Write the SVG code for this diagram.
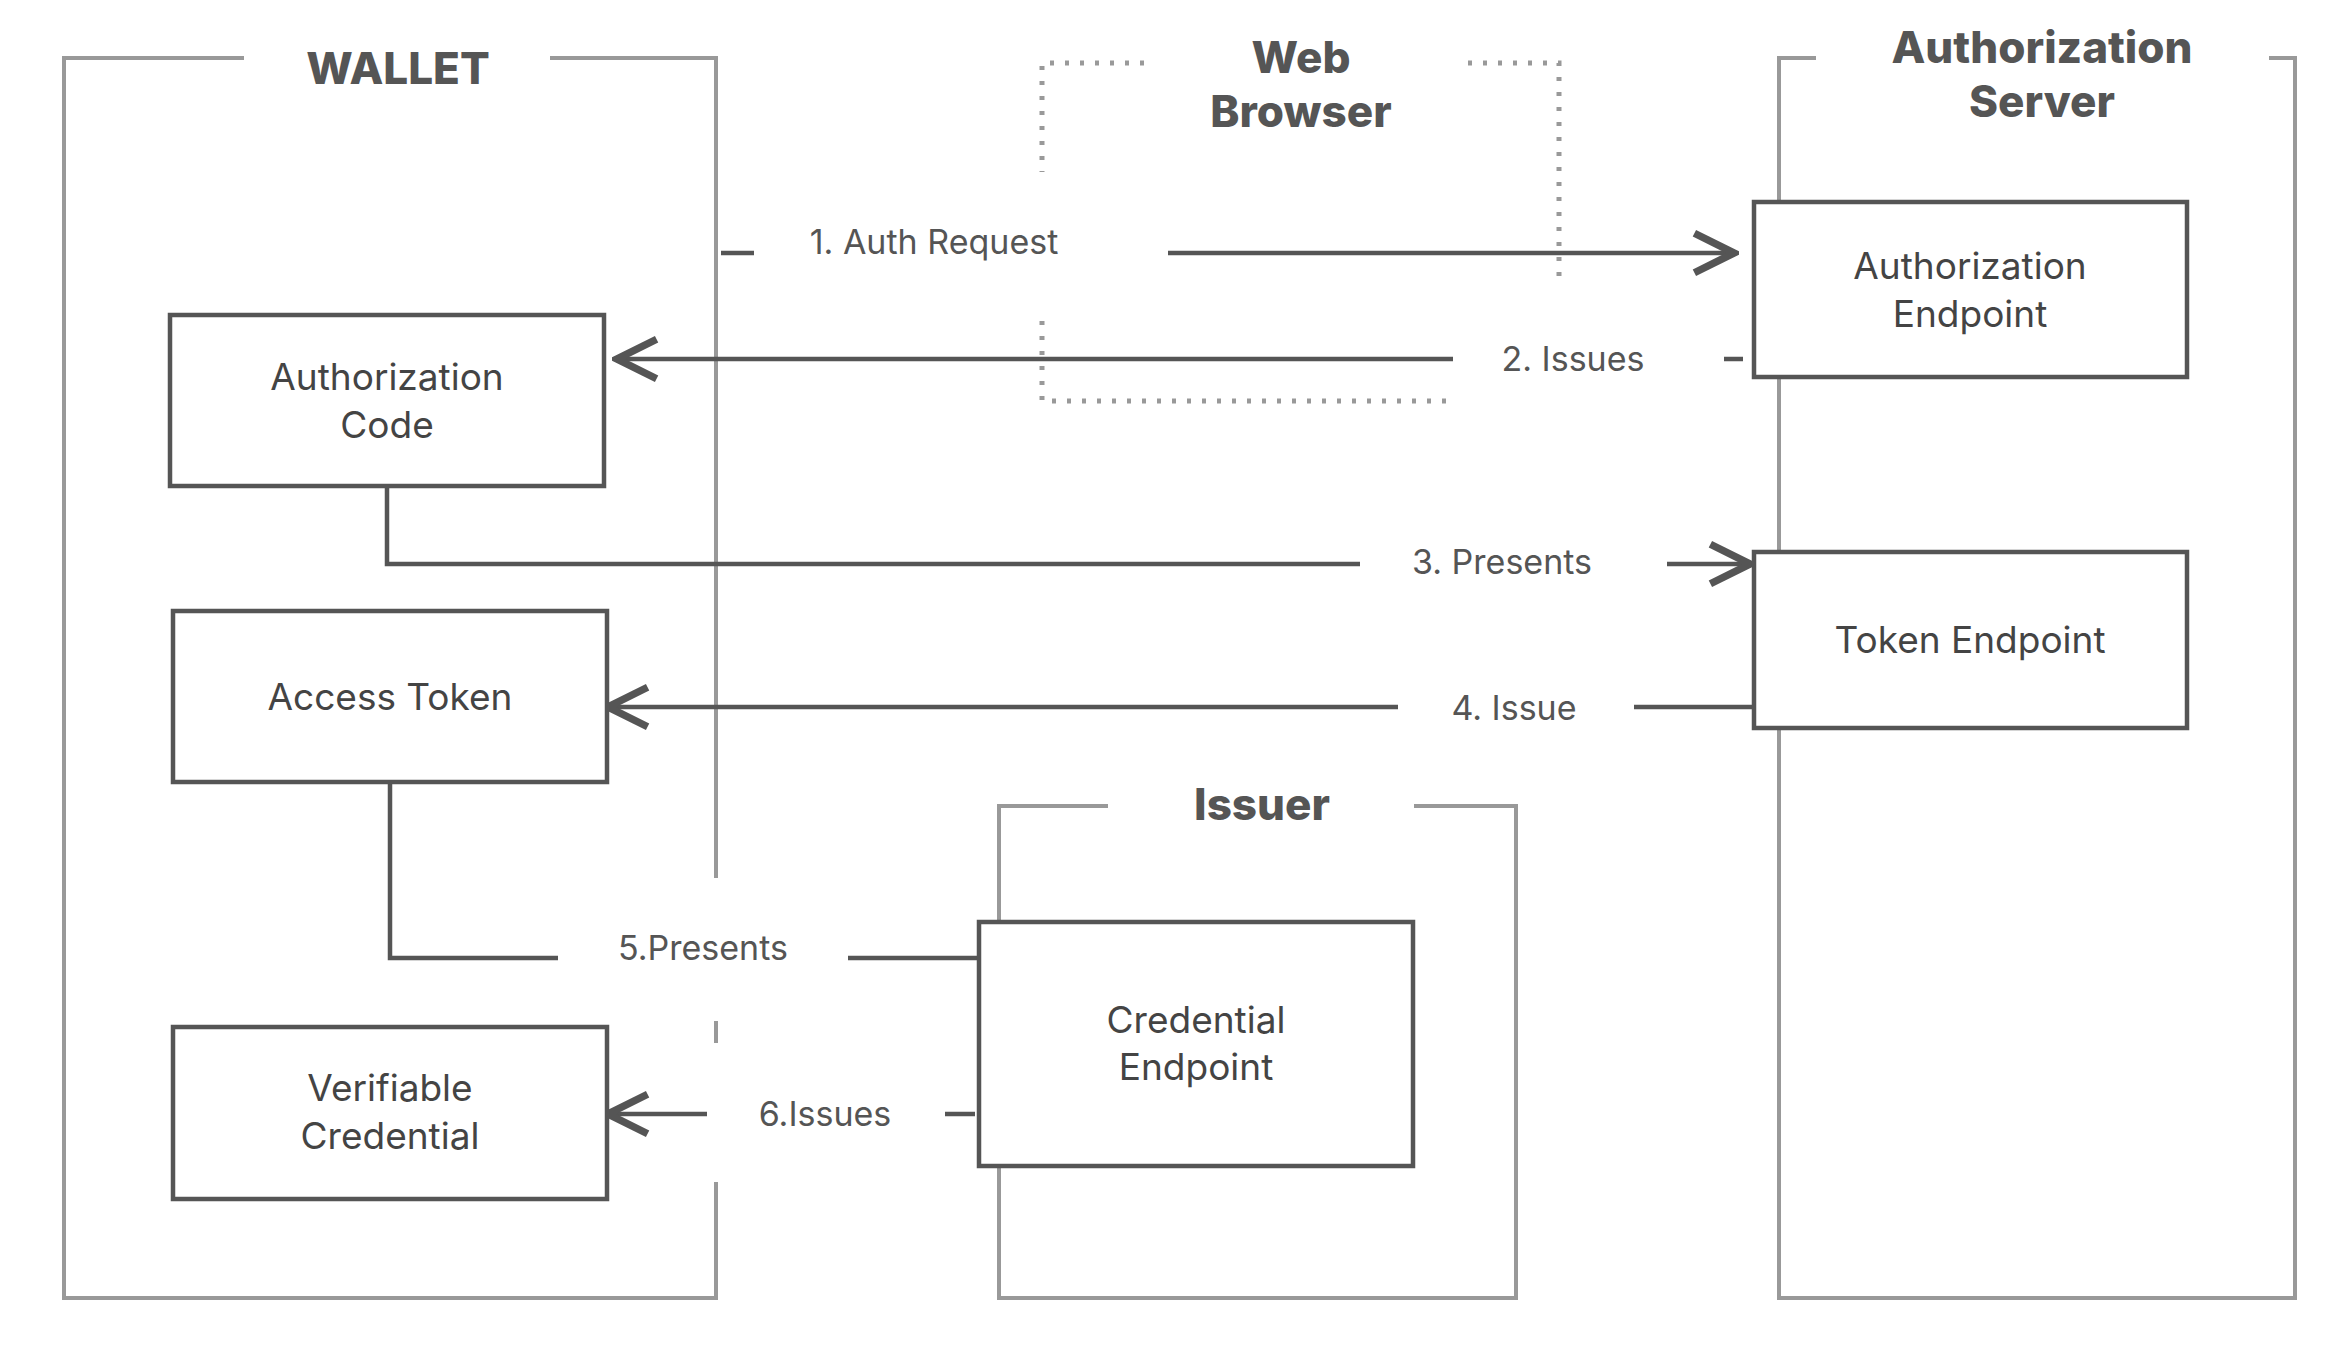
<svg xmlns="http://www.w3.org/2000/svg" width="2344" height="1346" viewBox="0 0 2344 1346">
<style>
.c{fill:none;stroke:#999;stroke-width:4}
.d{fill:none;stroke:#999;stroke-width:5;stroke-dasharray:4 11}
.b{fill:#fff;stroke:#555;stroke-width:4.5}
.t{font-family:Inter,"Noto Sans",sans-serif;font-size:37px;fill:#444;text-anchor:middle}
.l{font-family:Inter,"Noto Sans",sans-serif;font-size:34px;fill:#555;text-anchor:middle}
.h{font-family:Inter,"Noto Sans",sans-serif;font-size:44px;font-weight:800;fill:#555;text-anchor:middle}
.e{fill:none;stroke:#555;stroke-width:4.5}
</style>
<defs>
<marker id="m" viewBox="0 0 20 20" refX="18" refY="10" markerWidth="11" markerHeight="11" orient="auto"><path d="M2,2 L18,10 L2,18" fill="none" stroke="#555" stroke-width="3"/></marker></defs>
<rect width="2344" height="1346" fill="#fff"/>
<g id="wallet"><path class="c" d="M244,58 H64 V1298 H716 V1182 M716,1043 V1021 M716,878 V58 H550"/><text class="h" x="398" y="84">WALLET</text></g>
<g id="browser"><path class="d" d="M1144,63 H1042 V172 M1042,321 V401 H1450 M1468,63 H1559 V284"/><text class="h" x="1301" y="73">Web</text><text class="h" x="1301" y="127">Browser</text></g>
<g id="authserver"><path class="c" d="M1816,58 H1779 V1298 H2295 V58 H2269"/><text class="h" x="2042" y="63">Authorization</text><text class="h" x="2042" y="117">Server</text></g>
<g id="issuer"><path class="c" d="M1108,806 H999 V1298 H1516 V806 H1414"/><text class="h" x="1262" y="820">Issuer</text></g>
<g id="connectors">
<path class="e" d="M721,253 H754 M1168,253 H1734" marker-end="url(#m)"/>
<path class="e" d="M1743,359 H1724 M1453,359 H617" marker-end="url(#m)"/>
<path class="e" d="M387,486 V564 H1360 M1667,564 H1750" marker-end="url(#m)"/>
<path class="e" d="M1754,707 H1634 M1398,707 H608" marker-end="url(#m)"/>
<path class="e" d="M390,782 V958 H558 M848,958 H979"/>
<path class="e" d="M975,1114 H945 M707,1114 H608" marker-end="url(#m)"/>
<text class="l" x="934" y="254">1. Auth Request</text>
<text class="l" x="1573" y="371">2. Issues</text>
<text class="l" x="1502" y="574">3. Presents</text>
<text class="l" x="1514" y="720">4. Issue</text>
<text class="l" x="703" y="960">5.Presents</text>
<text class="l" x="825" y="1126">6.Issues</text>
</g>
<g id="authendpoint"><rect class="b" x="1754" y="202" width="433" height="175"/><text class="t" x="1970" y="279">Authorization</text><text class="t" x="1970" y="327">Endpoint</text></g>
<g id="tokenendpoint"><rect class="b" x="1754" y="552" width="433" height="176"/><text class="t" x="1970" y="653">Token Endpoint</text></g>
<g id="authcode"><rect class="b" x="170" y="315" width="434" height="171"/><text class="t" x="387" y="390">Authorization</text><text class="t" x="387" y="438">Code</text></g>
<g id="accesstoken"><rect class="b" x="173" y="611" width="434" height="171"/><text class="t" x="390" y="710">Access Token</text></g>
<g id="vc"><rect class="b" x="173" y="1027" width="434" height="172"/><text class="t" x="390" y="1101">Verifiable</text><text class="t" x="390" y="1149">Credential</text></g>
<g id="credendpoint"><rect class="b" x="979" y="922" width="434" height="244"/><text class="t" x="1196" y="1033">Credential</text><text class="t" x="1196" y="1080">Endpoint</text></g>
</svg>
